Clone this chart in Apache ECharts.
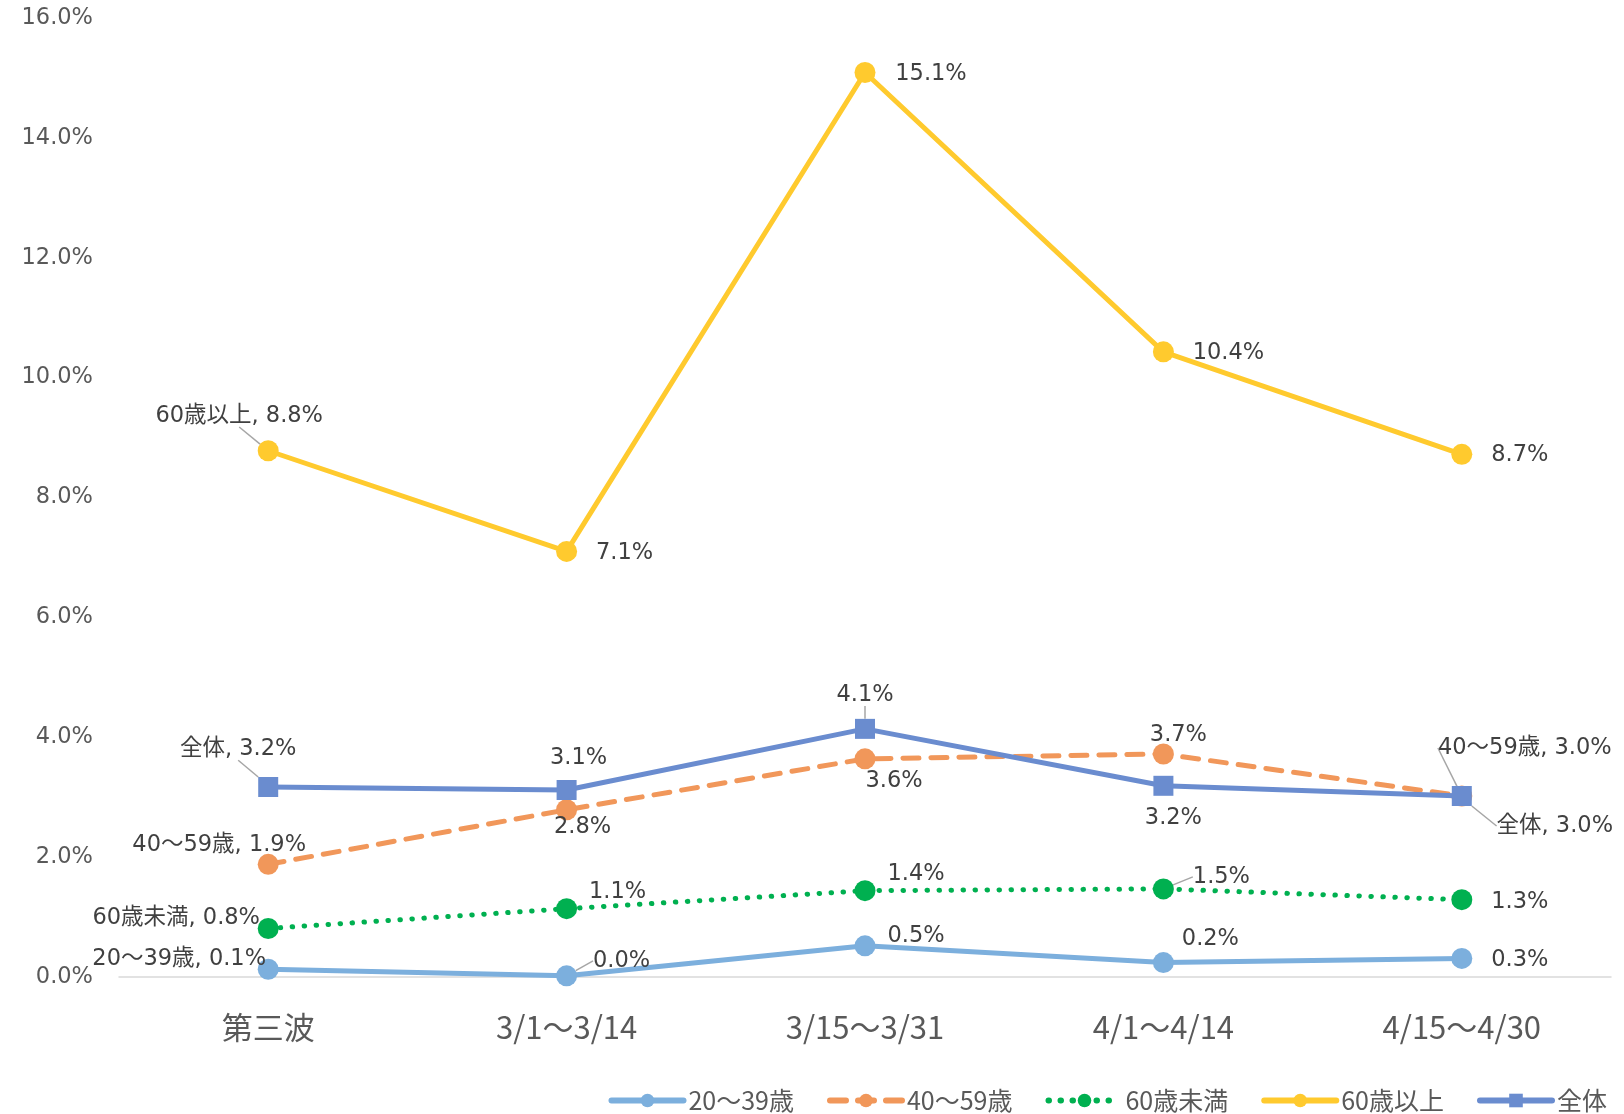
<!DOCTYPE html>
<html>
<head>
<meta charset="utf-8">
<script src="https://cdn.jsdelivr.net/npm/echarts@6/dist/echarts.min.js"></script>
<style>
  html, body { margin: 0; padding: 0; background: #fff; }
  #chart { width: 1624px; height: 1114px; }
</style>
</head>
<body>
<div id="chart"></div>
<script>
// data
const categories = ["第三波", "3/1～3/14", "3/15～3/31", "4/1～4/14", "4/15～4/30"];
const seriesNames = ["20～39歳", "40～59歳", "60歳未満", "60歳以上", "全体"];
const age20to39 = [0.13, 0.02, 0.52, 0.24, 0.31];
const age40to59 = [1.88, 2.79, 3.64, 3.72, 3.02];
const under60 = [0.81, 1.14, 1.44, 1.47, 1.29];
const over60 = [8.78, 7.10, 15.09, 10.43, 8.72];
const total = [3.17, 3.12, 4.14, 3.19, 3.02];
const yTicks = [0, 2, 4, 6, 8, 10, 12, 14, 16];

// label placement (offset of label centre from point, show series name, leader line)
const labelLayout = {
  "20～39歳": { off: [[-89, -10], [55, -15], [51, -10], [47, -23], [58, 2]], name: [1, 0, 0, 0, 0], line: [0, 1, 0, 0, 0] },
  "40～59歳": { off: [[-49, -19], [16, 17], [29, 22], [15, -19], [63, -48]], name: [1, 0, 0, 0, 1], line: [0, 0, 0, 0, 1] },
  "60歳未満": { off: [[-92, -10], [51, -17], [51, -17], [58, -12], [58, 2]], name: [1, 0, 0, 0, 0], line: [0, 0, 0, 1, 0] },
  "60歳以上": { off: [[-29, -35], [58, 2], [66, 2], [65, 1], [58, 1]], name: [1, 0, 0, 0, 0], line: [1, 0, 0, 0, 0] },
  "全体": { off: [[-30, -38], [12, -32], [0, -34], [10, 32], [93, 30]], name: [1, 0, 0, 0, 1], line: [1, 0, 1, 0, 1] },
};

const font = "'DejaVu Sans', 'Noto Sans CJK JP', sans-serif";

function buildData(name, values) {
  const lay = labelLayout[name];
  return values.map((v, i) => ({
    value: v,
    label: {
      offset: lay.off[i],
      formatter: (lay.name[i] ? name + ", " : "") + v.toFixed(1) + "%",
    },
    labelLine: { show: !!lay.line[i] },
  }));
}

function makeSeries(name, values, color, symbol, symbolSize, lineType, z) {
  return {
    name: name,
    type: "line",
    data: buildData(name, values),
    symbol: symbol,
    symbolSize: symbolSize,
    z: z,
    itemStyle: { color: color },
    lineStyle: { color: color, width: 5, type: lineType, cap: "round" },
    label: {
      show: true,
      position: "inside",
      align: "center",
      verticalAlign: "middle",
      color: "#404040",
      fontSize: 22.5,
      fontFamily: font,
    },
    labelLine: {
      show: false,
      lineStyle: { color: "#a6a6a6", width: 1.5 },
    },
  };
}

const chart = echarts.init(document.getElementById("chart"));
chart.setOption({
  animation: false,
  backgroundColor: "#ffffff",
  grid: { left: 119, right: 13, top: 18, bottom: 137 },
  legend: {
    right: 12,
    top: 1083,
    itemWidth: 72,
    itemHeight: 17,
    itemGap: 33,
    lineStyle: { width: 6 },
    textStyle: { color: "#595959", fontSize: 25, fontFamily: "'Noto Sans CJK JP', sans-serif" },
    data: seriesNames,
  },
  xAxis: {
    type: "category",
    data: categories,
    axisLine: { lineStyle: { color: "#d9d9d9", width: 1.5 } },
    axisTick: { show: false },
    axisLabel: {
      color: "#595959",
      fontSize: 31,
      fontFamily: "'Noto Sans CJK JP', sans-serif",
      margin: 35,
    },
  },
  yAxis: {
    type: "value",
    min: yTicks[0],
    max: yTicks[yTicks.length - 1],
    interval: 2,
    axisLine: { show: false },
    axisTick: { show: false },
    splitLine: { show: false },
    axisLabel: {
      color: "#595959",
      fontSize: 22.5,
      fontFamily: font,
      margin: 26,
      formatter: (v) => v.toFixed(1) + "%",
    },
  },
  series: [
    makeSeries("20～39歳", age20to39, "#7cafdd", "circle", 21, "solid", 2),
    makeSeries("40～59歳", age40to59, "#f1975a", "circle", 21, [16, 12], 3),
    makeSeries("60歳未満", under60, "#00b050", "circle", 21, [0.5, 11.5], 4),
    makeSeries("60歳以上", over60, "#ffca2e", "circle", 21, "solid", 5),
    makeSeries("全体", total, "#6a8ccf", "rect", 20, "solid", 6),
  ],
});
</script>
</body>
</html>
